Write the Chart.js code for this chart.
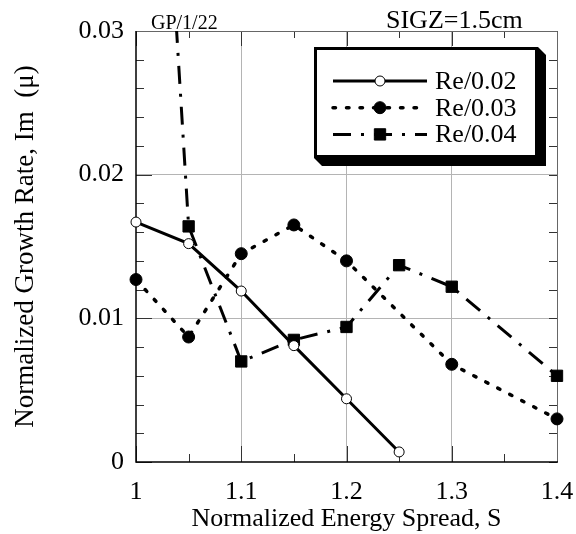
<!DOCTYPE html>
<html lang="en">
<head>
<meta charset="UTF-8">
<title>Normalized Growth Rate vs Energy Spread</title>
<script src="https://cdn.jsdelivr.net/npm/chart.js"></script>
<style>
  html, body { margin: 0; padding: 0; background: #fff; }
</style>
</head>
<body>
<canvas id="growthChart" width="576" height="534"></canvas>
<script>
// values
const seriesNames = ['Re/0.02', 'Re/0.03', 'Re/0.04'];

const spreadRe002 = [1, 1.05, 1.1, 1.15, 1.2, 1.25];
const growthRe002 = [0.0167, 0.0152, 0.0119, 0.0081, 0.0044, 0.0007];

const spreadRe003 = [1, 1.05, 1.1, 1.15, 1.2, 1.3, 1.4];
const growthRe003 = [0.0127, 0.0087, 0.0145, 0.0165, 0.0140, 0.0068, 0.0030];

// first point lies far above the plotted range
const spreadRe004 = [1, 1.05, 1.1, 1.15, 1.2, 1.25, 1.3, 1.4];
const growthRe004 = [0.076, 0.0164, 0.0070, 0.0085, 0.0094, 0.0137, 0.0122, 0.0060];

const cornerNotes = ['GP/1/22', 'SIGZ=1.5cm'];
const xTitle = 'Normalized Energy Spread, S';
const yTitle = 'Normalized Growth Rate, Im  (\u03bc)';

const serif = "'Liberation Serif', 'Times New Roman', serif";
Chart.defaults.font.family = serif;
Chart.defaults.color = '#000';

function pairs(xs, ys) {
    return xs.map((v, i) => ({ x: v, y: ys[i] }));
}

// inward tick marks and frame
const frame = {
    id: 'frame',
    beforeDatasetsDraw(chart) {
        const { ctx, chartArea: a, scales: { x, y } } = chart;
        ctx.save();
        ctx.strokeStyle = '#333';
        ctx.lineWidth = 1;
        ctx.beginPath();
        for (let i = 0; i <= 8; i++) {
            const px = Math.round(x.getPixelForValue(1 + i * 0.05)) + 0.5;
            const major = i % 2 === 0;
            ctx.moveTo(px, a.bottom); ctx.lineTo(px, a.bottom - (major ? 16 : 8));
            ctx.moveTo(px, a.top); ctx.lineTo(px, a.top + (major ? 15 : 7));
        }
        for (let i = 0; i <= 15; i++) {
            const py = Math.round(y.getPixelForValue(i * 0.002)) + 0.5;
            const major = i % 5 === 0;
            ctx.moveTo(a.left, py); ctx.lineTo(a.left + (major ? 16 : 8), py);
            ctx.moveTo(a.right, py); ctx.lineTo(a.right - 8, py);
        }
        ctx.stroke();

        ctx.strokeStyle = '#666';
        ctx.beginPath();
        ctx.moveTo(a.left, a.top + 0.5); ctx.lineTo(a.right + 0.5, a.top + 0.5);
        ctx.lineTo(a.right + 0.5, a.bottom);
        ctx.stroke();

        ctx.strokeStyle = '#000';
        ctx.lineWidth = 1.5;
        ctx.beginPath();
        ctx.moveTo(a.left, a.top); ctx.lineTo(a.left, a.bottom); ctx.lineTo(a.right + 1, a.bottom);
        ctx.stroke();
        ctx.restore();
    },
    afterDraw(chart) {
        const ctx = chart.ctx;
        ctx.save();
        ctx.fillStyle = '#000';
        ctx.textBaseline = 'alphabetic';
        ctx.font = '20px ' + serif;
        ctx.fillText(cornerNotes[0], 151, 29);
        ctx.font = '26px ' + serif;
        ctx.fillText(cornerNotes[1], 386, 28);
        ctx.restore();
    }
};

// boxed legend with drop shadow
const boxLegend = {
    id: 'boxLegend',
    afterDraw(chart) {
        const ctx = chart.ctx;
        const bx = 314, by = 47, bw = 224, bh = 111, sh = 8;
        ctx.save();
        ctx.fillStyle = '#000';
        ctx.beginPath();
        ctx.moveTo(bx, by + bh);
        ctx.lineTo(bx + sh, by + bh + sh);
        ctx.lineTo(bx + bw + sh, by + bh + sh);
        ctx.lineTo(bx + bw + sh, by + sh);
        ctx.lineTo(bx + bw, by);
        ctx.closePath();
        ctx.fill();
        ctx.fillStyle = '#fff';
        ctx.fillRect(bx, by, bw, bh);
        ctx.lineWidth = 3;
        ctx.strokeStyle = '#000';
        ctx.strokeRect(bx + 1.5, by + 1.5, bw - 3, bh - 3);

        ctx.font = '26px ' + serif;
        ctx.textBaseline = 'middle';
        chart.data.datasets.forEach((ds, i) => {
            const cy = 81 + i * 26.7;
            ctx.beginPath();
            ctx.setLineDash(ds.borderDash || []);
            ctx.lineCap = ds.borderCapStyle || 'butt';
            ctx.lineWidth = ds.borderWidth;
            ctx.strokeStyle = ds.borderColor;
            ctx.moveTo(333, cy); ctx.lineTo(427, cy);
            ctx.stroke();
            ctx.setLineDash([]);

            const mx = 380, r = ds.pointRadius;
            ctx.beginPath();
            if (ds.pointStyle === 'rect') {
                const s = r * Math.SQRT1_2;
                ctx.rect(mx - s, cy - s, 2 * s, 2 * s);
            } else {
                ctx.arc(mx, cy, r, 0, Math.PI * 2);
            }
            ctx.fillStyle = ds.pointBackgroundColor;
            ctx.fill();
            ctx.lineWidth = ds.pointBorderWidth;
            ctx.strokeStyle = ds.pointBorderColor;
            ctx.stroke();

            ctx.fillStyle = '#000';
            ctx.fillText(ds.label, 435, cy + 1);
        });
        ctx.restore();
    }
};

const edgeClip = { left: 12, right: 12, top: 0, bottom: 12 };

new Chart(document.getElementById('growthChart'), {
    type: 'line',
    data: {
        datasets: [
            {
                label: seriesNames[0],
                data: pairs(spreadRe002, growthRe002),
                borderColor: '#000',
                borderWidth: 3,
                pointStyle: 'circle',
                pointRadius: 5,
                pointBackgroundColor: '#fff',
                pointBorderColor: '#000',
                pointBorderWidth: 1,
                clip: edgeClip
            },
            {
                label: seriesNames[1],
                data: pairs(spreadRe003, growthRe003),
                borderColor: '#000',
                borderWidth: 3.5,
                borderDash: [2.5, 11],
                borderCapStyle: 'round',
                pointStyle: 'circle',
                pointRadius: 6,
                pointBackgroundColor: '#000',
                pointBorderColor: '#000',
                pointBorderWidth: 1,
                clip: edgeClip
            },
            {
                label: seriesNames[2],
                data: pairs(spreadRe004, growthRe004),
                borderColor: '#000',
                borderWidth: 3,
                borderDash: [18, 10, 3, 10],
                pointStyle: 'rect',
                pointRadius: 8,
                pointBackgroundColor: '#000',
                pointBorderColor: '#000',
                pointBorderWidth: 1,
                clip: edgeClip
            }
        ]
    },
    options: {
        responsive: false,
        animation: false,
        layout: { padding: { top: 31, right: 19, left: 0, bottom: 0 } },
        plugins: {
            legend: { display: false },
            tooltip: { enabled: false }
        },
        elements: { line: { tension: 0, fill: false } },
        scales: {
            x: {
                type: 'linear',
                min: 1,
                max: 1.4,
                afterFit: s => { s.height = 72; s.paddingLeft = 0; s.paddingRight = 0; },
                border: { display: false },
                grid: {
                    drawTicks: false,
                    lineWidth: 1,
                    color: c => (c.index === 0 || c.index === 4) ? 'rgba(0,0,0,0)' : '#b4b4b4'
                },
                ticks: {
                    stepSize: 0.1,
                    padding: 15,
                    font: { size: 26 },
                    color: '#000',
                    callback: v => String(Math.round(v * 10) / 10)
                },
                title: {
                    display: true,
                    text: xTitle,
                    font: { size: 26 },
                    color: '#000',
                    padding: { top: 0, bottom: -1 }
                }
            },
            y: {
                type: 'linear',
                min: 0,
                max: 0.03,
                afterFit: s => { s.width = 136; s.paddingTop = 0; s.paddingBottom = 0; },
                border: { display: false },
                grid: {
                    drawTicks: false,
                    lineWidth: 1,
                    color: c => (c.index === 0 || c.index === 3) ? 'rgba(0,0,0,0)' : '#b4b4b4'
                },
                ticks: {
                    stepSize: 0.01,
                    padding: 12,
                    font: { size: 26 },
                    color: '#000',
                    callback: v => v === 0 ? '0' : (Math.round(v * 100) / 100).toFixed(2)
                },
                title: {
                    display: true,
                    text: yTitle,
                    font: { size: 27 },
                    color: '#000',
                    padding: { top: 10, bottom: 0 }
                }
            }
        }
    },
    plugins: [frame, boxLegend]
});
</script>
</body>
</html>
